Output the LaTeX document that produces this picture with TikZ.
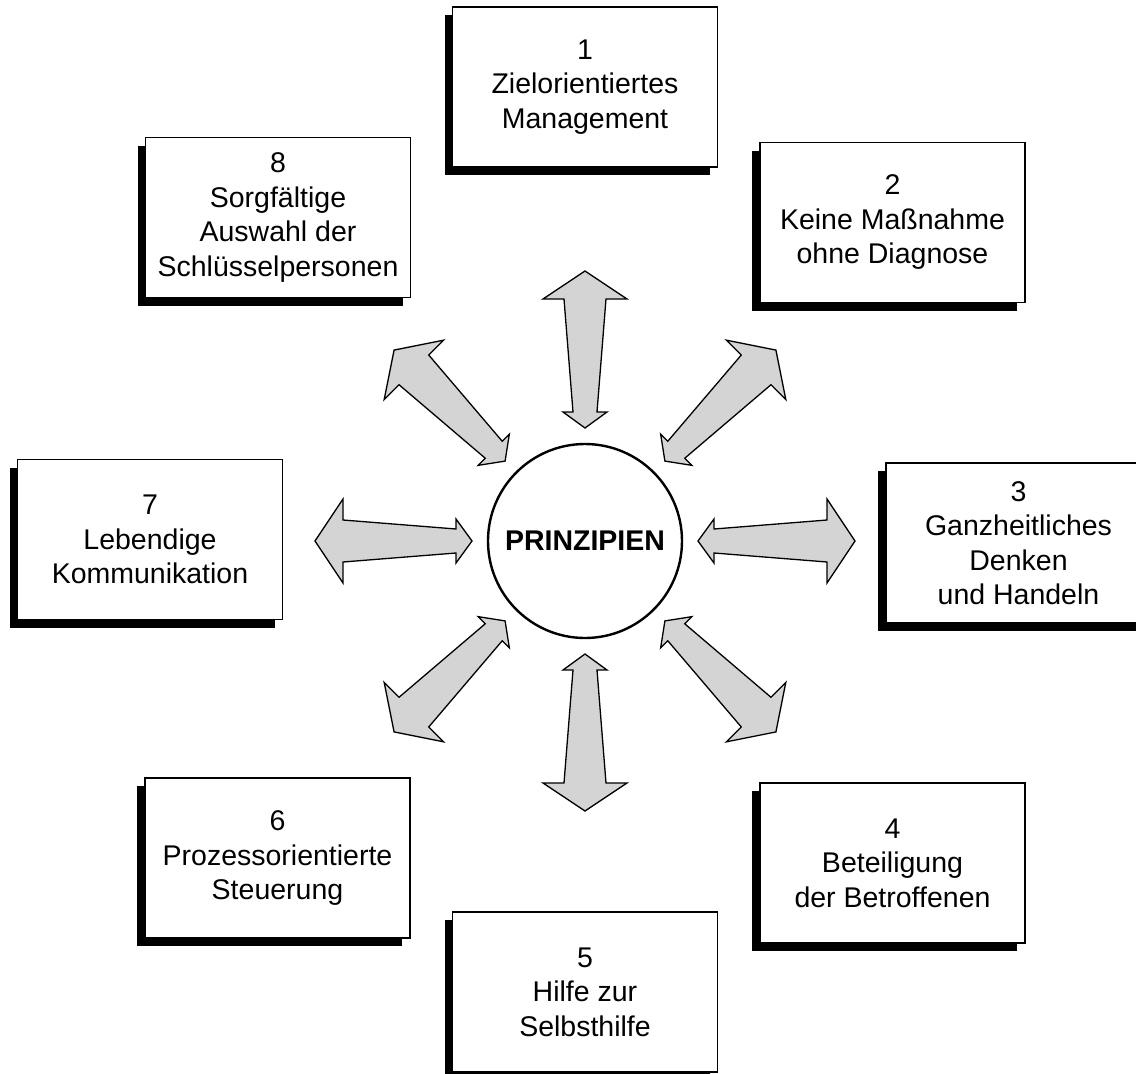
\documentclass[tikz,border=0pt]{standalone}
\usepackage{fontspec}
\setmainfont{Liberation Sans}
\usetikzlibrary{shadows}
\begin{document}
\begin{tikzpicture}[x=1pt,y=-1pt,
  pbox/.style={draw, line width=1.4pt, fill=white, minimum width=265pt, minimum height=160pt,
    align=center, inner sep=0pt, font=\fontsize{28.5}{34.5}\selectfont,
    drop shadow={shadow xshift=-8pt, shadow yshift=-8pt, fill=black, opacity=1}},
  parrow/.style={draw, line width=1.3pt, fill=black!17, line join=miter},
  hub/.style={circle, draw, line width=2.4pt, fill=white, minimum size=194pt, inner sep=0pt,
    font=\bfseries\fontsize{28.5}{34}\selectfont}]
\useasboundingbox (0,0) rectangle (1136,1074);
\clip (0,0) rectangle (1136,1074);

\node[pbox] (b1) at (585,87)    {1\\Zielorientiertes\\Management};
\node[pbox] (b2) at (892.5,222.5) {2\\Keine Maßnahme\\ohne Diagnose};
\node[pbox] (b3) at (1018.5,543) {3\\Ganzheitliches\\Denken\\und Handeln};
\node[pbox] (b4) at (892.5,863) {4\\Beteiligung\\der Betroffenen};
\node[pbox] (b5) at (585,992)   {5\\Hilfe zur\\Selbsthilfe};
\node[pbox] (b6) at (277.5,858) {6\\Prozessorientierte\\Steuerung};
\node[pbox] (b7) at (150,539.5) {7\\Lebendige\\Kommunikation};
\node[pbox] (b8) at (278,217.5) {8\\Sorgfältige\\Auswahl der\\Schlüsselpersonen};

\node[hub] (P) at (585,541) {PRINZIPIEN};

\foreach \a in {0,45,...,315}{
  \begin{scope}[shift={(P.center)}, rotate=\a]
    \draw[parrow] (113,0) -- (129,22) -- (129,12) -- (242,21) -- (242,42) -- (270,0)
      -- (242,-42) -- (242,-21) -- (129,-12) -- (129,-22) -- cycle;
  \end{scope}
}
\end{tikzpicture}
\end{document}
